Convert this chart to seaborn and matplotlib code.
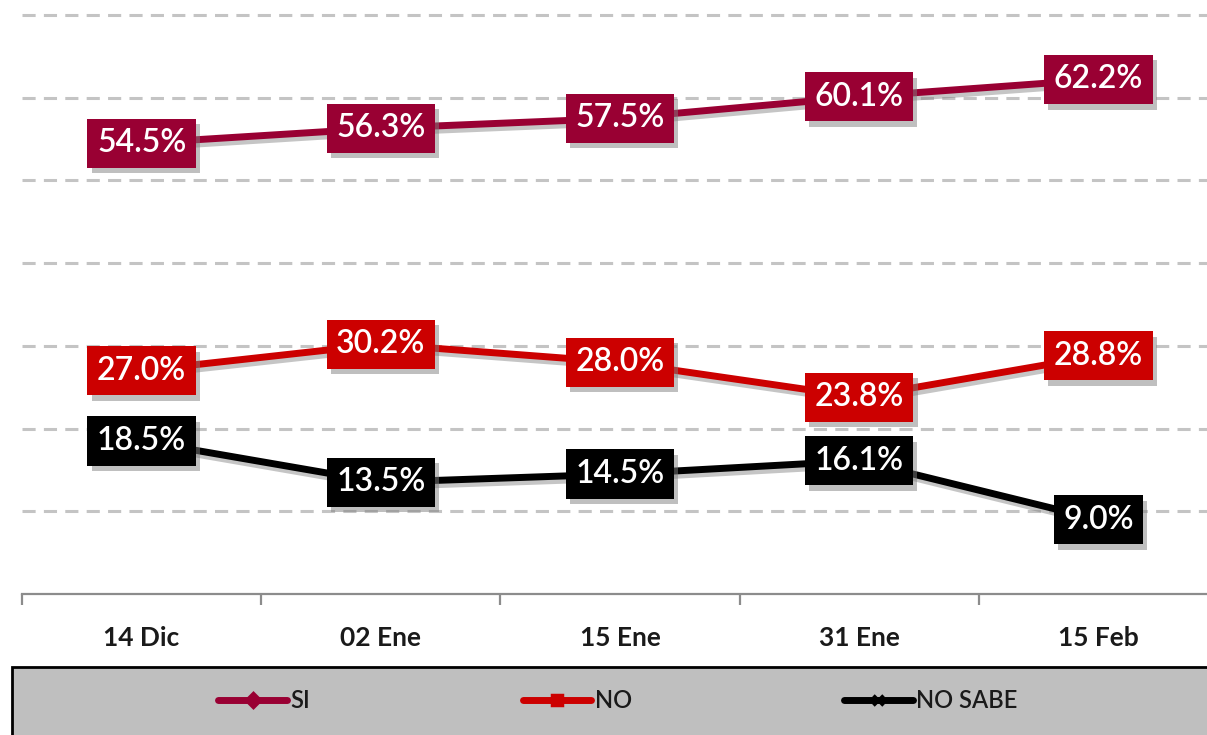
import seaborn as sns
import matplotlib.pyplot as plt
import matplotlib.patheffects as pe
from matplotlib.lines import Line2D
from matplotlib.patches import Rectangle
import pandas as pd

fechas = ['14 Dic', '02 Ene', '15 Ene', '31 Ene', '15 Feb']
si = [54.5, 56.3, 57.5, 60.1, 62.2]
no = [27.0, 30.2, 28.0, 23.8, 28.8]
no_sabe = [18.5, 13.5, 14.5, 16.1, 9.0]

series = ['SI', 'NO', 'NO SABE']
colores = {'SI': '#990033', 'NO': '#CC0000', 'NO SABE': '#000000'}
marcadores = {'SI': 'D', 'NO': 's', 'NO SABE': 'x'}

rows = []
for nombre, vals in zip(series, [si, no, no_sabe]):
    for i, v in enumerate(vals):
        rows.append({'pos': i, 'fecha': fechas[i], 'serie': nombre, 'valor': v})
df = pd.DataFrame(rows)

sns.set_style('white')
plt.rcParams['font.family'] = ['Lato', 'DejaVu Sans']

fig = plt.figure(figsize=(12.07, 7.35), dpi=100)
ax = fig.add_axes([22 / 1207, 141 / 735, 1196 / 1207, 594 / 735])

shadow = [pe.SimpleLineShadow(offset=(2, -3), shadow_color='gray', alpha=0.45), pe.Normal()]
sns.lineplot(data=df, x='pos', y='valor', hue='serie', palette=colores, linewidth=5,
             legend=False, ax=ax, sort=False)
for ln in ax.get_lines():
    ln.set_path_effects(shadow)
    ln.set_solid_capstyle('butt')

# etiquetas con caja
for _, r in df.iterrows():
    t = ax.text(r.pos, r.valor, f'{r.valor:.1f}%', ha='center', va='center', color='white',
                fontsize=23, fontweight='semibold', zorder=5,
                bbox=dict(boxstyle='square,pad=0.3', facecolor=colores[r.serie], edgecolor='none'))
    t.get_bbox_patch().set_path_effects([pe.withSimplePatchShadow(offset=(3, -4), shadow_rgbFace='gray', alpha=0.5)])

ax.set_xlim(-0.5, 4.5)
ax.set_ylim(0, 71.8)
ax.set_yticks(range(10, 80, 10))
ax.set_yticklabels([])
ax.tick_params(axis='y', length=0)
ax.grid(axis='y', color='#c4c4c4', linewidth=2.2, linestyle=(0, (4.3, 2.7)))
ax.grid(axis='x', visible=False)

ax.set_xticks([-0.5, 0.5, 1.5, 2.5, 3.5, 4.5])
ax.set_xticklabels([])
ax.tick_params(axis='x', which='major', bottom=True, length=8, width=1.6, color='#8c8c8c', direction='out')
ax.set_xticks(range(5), minor=True)
ax.set_xticklabels(fechas, minor=True, fontsize=19, fontweight='bold', color='#1a1a1a')
ax.tick_params(axis='x', which='minor', bottom=True, length=0, pad=23)
ax.set_xlabel('')
ax.set_ylabel('')

for s in ['top', 'right', 'left']:
    ax.spines[s].set_visible(False)
ax.spines['bottom'].set_color('#8c8c8c')
ax.spines['bottom'].set_linewidth(1.6)

# caja de leyenda
fig.patches.append(Rectangle((12 / 1207, -0.01), 1.0, (735 - 667) / 735 + 0.01, transform=fig.transFigure,
                             facecolor='#bfbfbf', edgecolor='black', linewidth=2, zorder=0))
handles = [Line2D([0], [0], color=colores[s], linewidth=5, marker=marcadores[s], markersize=7,
                  markeredgewidth=2.5, solid_capstyle='round') for s in series]
leg = fig.legend(handles, series, loc='center', bbox_to_anchor=(618 / 1207, 34 / 735), ncol=3,
                 frameon=False, handlelength=2.9, handletextpad=0.15, columnspacing=9.0,
                 prop={'size': 17, 'weight': 'semibold'})
for txt in leg.get_texts():
    txt.set_color('#1a1a1a')

fig.savefig('out.png', dpi=100)
